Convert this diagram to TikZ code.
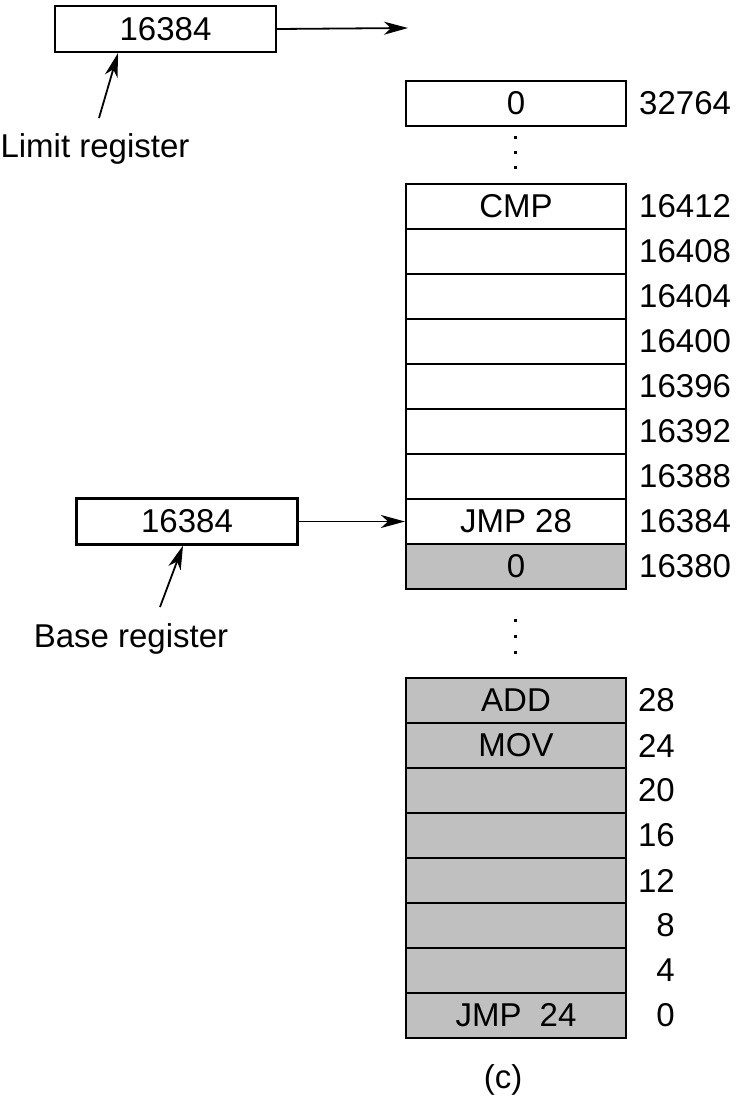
\documentclass[tikz,border=0pt]{standalone}
\usepackage{fontspec}
\setmainfont{Liberation Sans}
\usetikzlibrary{arrows.meta,calc}
\definecolor{cellgray}{RGB}{192,192,192}
\begin{document}
\begin{tikzpicture}[x=1pt,y=-1pt,
  txt/.style={font=\fontsize{33}{40}\selectfont, inner sep=0pt},
  cell/.style={txt, draw, line width=2.1pt, minimum width=220pt, minimum height=45pt},
  graycell/.style={cell, fill=cellgray},
  reg/.style={cell, minimum width=221pt, minimum height=46pt},
  arr/.style={line width=1.8pt, -{Stealth[length=24pt,width=13pt,inset=7pt]}},
  addrl/.style={txt, anchor=west},
  addrr/.style={txt, anchor=east},
  memdot/.style={fill=black}]
\useasboundingbox (0,0) rectangle (738,1100);

% registers
\node[reg] (limbox) at (165.5,29) {16384};
\node[reg] (basebox) at (187,521.5) {16384};
\node[txt] (limlbl) at (95,148.5) {Limit register};
\node[txt] (baselbl) at (131,638.5) {Base register};

% upper memory
\node[cell] (c32764) at (516,103.5) {0};
\node[cell] (c16412) at (516,206.5) {CMP};
\node[cell] (c16408) at (516,251.5) {};
\node[cell] (c16404) at (516,296.5) {};
\node[cell] (c16400) at (516,341.5) {};
\node[cell] (c16396) at (516,386.5) {};
\node[cell] (c16392) at (516,431.5) {};
\node[cell] (c16388) at (516,476.5) {};
\node[cell] (c16384) at (516,521.5) {JMP 28};
\node[graycell] (c16380) at (516,566.5) {0};

\node[addrl] (a32764) at (639,103.5) {32764};
\node[addrl] (a16412) at (639,206.5) {16412};
\node[addrl] (a16408) at (639,251.5) {16408};
\node[addrl] (a16404) at (639,296.5) {16404};
\node[addrl] (a16400) at (639,341.5) {16400};
\node[addrl] (a16396) at (639,386.5) {16396};
\node[addrl] (a16392) at (639,431.5) {16392};
\node[addrl] (a16388) at (639,476.5) {16388};
\node[addrl] (a16384) at (639,521.5) {16384};
\node[addrl] (a16380) at (639,566.5) {16380};

% lower memory
\node[graycell] (c28) at (516,700.5) {ADD};
\node[graycell] (c24) at (516,745.5) {MOV};
\node[graycell] (c20) at (516,790.5) {};
\node[graycell] (c16) at (516,835.5) {};
\node[graycell] (c12) at (516,880.5) {};
\node[graycell] (c8) at (516,925.5) {};
\node[graycell] (c4) at (516,970.5) {};
\node[graycell] (c0) at (516,1015.5) {JMP\hspace{0.55em}24};

\node[addrr] (a28) at (675,700.5) {28};
\node[addrr] (a24) at (675,745.5) {24};
\node[addrr] (a20) at (675,790.5) {20};
\node[addrr] (a16) at (675,835.5) {16};
\node[addrr] (a12) at (675,880.5) {12};
\node[addrr] (a8) at (675,925.5) {8};
\node[addrr] (a4) at (675,970.5) {4};
\node[addrr] (a0) at (675,1015.5) {0};

% ellipsis dots
\foreach \y in {137,152,167,620,636,652}
  \fill[memdot] (513.5,\y-1.5) rectangle ++(3,3);

% caption
\node[txt] (cap) at (503,1080) {(c)};

% connectors
\coordinate (limend) at (408,28);
\coordinate (limtail) at (99,118);
\coordinate (basetail) at (160,607);
\draw[arr] (limbox.east) -- (limend);
\draw[arr] (basebox.east) -- (c16384.west);
\draw[arr] (limtail) -- ([xshift=-47.5pt]limbox.south);
\draw[arr] (basetail) -- ([xshift=-4pt]basebox.south);
\end{tikzpicture}
\end{document}
